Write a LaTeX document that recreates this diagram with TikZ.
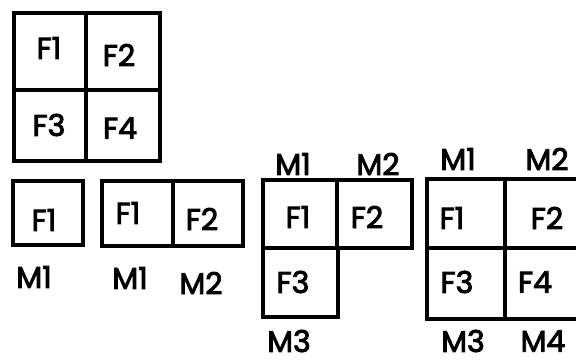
\documentclass[tikz,border=0pt]{standalone}
\usepackage{fontspec}
\setmainfont{Poppins}[FakeBold=3]
\begin{document}
\begin{tikzpicture}[x=1pt,y=-1pt,
  box/.style={draw=black,line width=4pt},
  lbl/.style={font=\fontsize{30}{30}\selectfont,inner sep=0pt,anchor=center}]
\useasboundingbox (0,0) rectangle (576,363);
\clip (0,0) rectangle (576,363);
% top grid
\draw[box] (14,13) rectangle (160,161);
\draw[box] (86,13) -- (86,161);
\draw[box] (14,90) -- (160,90);
\node[lbl] (a1) at (49,48) {F1};
\node[lbl] (a2) at (119,55) {F2};
\node[lbl] (a3) at (49,125) {F3};
\node[lbl] (a4) at (120,128) {F4};
% single box
\draw[box] (13,181) rectangle (83,245);
\node[lbl] (b1) at (44,220) {F1};
\node[lbl] (bm1) at (34,277) {M1};
% two boxes
\draw[box] (102,181) rectangle (243,246);
\draw[box] (173,181) -- (173,246);
\node[lbl] (c1) at (128,213) {F1};
\node[lbl] (c2) at (202,219) {F2};
\node[lbl] (cm1) at (130,278) {M1};
\node[lbl] (cm2) at (201,283) {M2};
% L-shape
\draw[box] (263,180) rectangle (412,248);
\draw[box] (337,180) -- (337,248);
\draw[box] (263,248) -- (263,317) -- (338,317) -- (338,248);
\node[lbl] (d1) at (298,217) {F1};
\node[lbl] (d2) at (367,217) {F2};
\node[lbl] (d3) at (293,282) {F3};
\node[lbl] (dm1) at (293,164) {M1};
\node[lbl] (dm2) at (378,164) {M2};
\node[lbl] (dm3) at (289,341) {M3};
% right grid
\draw[box] (427,179) rectangle (600,319);
\draw[box] (505,179) -- (505,319);
\draw[box] (427,248) -- (600,248);
\node[lbl] (e1) at (452,218) {F1};
\node[lbl] (e2) at (547,218) {F2};
\node[lbl] (e3) at (457,282) {F3};
\node[lbl] (e4) at (535,282) {F4};
\node[lbl] (em1) at (458,159) {M1};
\node[lbl] (em2) at (547,159) {M2};
\node[lbl] (em3) at (463,341) {M3};
\node[lbl] (em4) at (543,341) {M4};
\end{tikzpicture}
\end{document}
